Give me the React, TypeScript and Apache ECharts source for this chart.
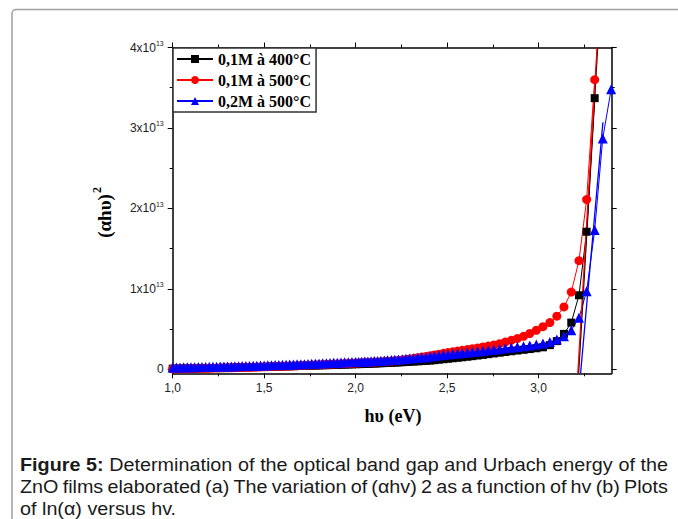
import React, { useEffect, useRef } from 'react';
import * as echarts from 'echarts';

// ---------- DATA (y values in units of 1e13) ----------
const hv = [
  1.00, 1.02, 1.04, 1.06, 1.08, 1.10, 1.12, 1.14, 1.16, 1.18,
  1.20, 1.22, 1.24, 1.26, 1.28, 1.30, 1.32, 1.34, 1.36, 1.38,
  1.40, 1.42, 1.44, 1.46, 1.48, 1.50, 1.52, 1.54, 1.56, 1.58,
  1.60, 1.62, 1.64, 1.66, 1.68, 1.70, 1.72, 1.74, 1.76, 1.78,
  1.80, 1.82, 1.84, 1.86, 1.88, 1.90, 1.92, 1.94, 1.96, 1.98,
  2.000, 2.016, 2.033, 2.050, 2.067, 2.084, 2.102, 2.120, 2.138, 2.157,
  2.175, 2.195, 2.214, 2.234, 2.255, 2.275, 2.296, 2.318, 2.340, 2.362,
  2.385, 2.408, 2.431, 2.455, 2.480, 2.505, 2.531, 2.557, 2.583, 2.611,
  2.638, 2.667, 2.696, 2.725, 2.756, 2.787, 2.818, 2.851, 2.884, 2.918,
  2.952, 2.988, 3.024, 3.062, 3.100, 3.139, 3.179, 3.221, 3.263, 3.307,
  3.351, 3.397,
];

const black400 = [
  0.008, 0.008, 0.009, 0.009, 0.010, 0.011, 0.011, 0.012, 0.013, 0.014,
  0.015, 0.016, 0.016, 0.017, 0.018, 0.019, 0.020, 0.021, 0.022, 0.023,
  0.024, 0.025, 0.026, 0.027, 0.028, 0.029, 0.030, 0.031, 0.032, 0.033,
  0.035, 0.036, 0.037, 0.038, 0.040, 0.041, 0.042, 0.044, 0.045, 0.046,
  0.048, 0.049, 0.051, 0.052, 0.054, 0.055, 0.057, 0.058, 0.060, 0.061,
  0.063, 0.064, 0.065, 0.067, 0.068, 0.070, 0.071, 0.073, 0.075, 0.077,
  0.079, 0.081, 0.083, 0.085, 0.088, 0.090, 0.093, 0.096, 0.099, 0.102,
  0.105, 0.108, 0.113, 0.119, 0.125, 0.131, 0.137, 0.143, 0.149, 0.156,
  0.163, 0.171, 0.179, 0.188, 0.197, 0.206, 0.215, 0.224, 0.233, 0.242,
  0.251, 0.261, 0.273, 0.300, 0.350, 0.440, 0.580, 0.920, 1.710, 3.370,
  null, null,
];

const red500 = [
  0.004, 0.005, 0.005, 0.006, 0.007, 0.008, 0.009, 0.010, 0.011, 0.012,
  0.013, 0.014, 0.015, 0.016, 0.017, 0.018, 0.019, 0.020, 0.021, 0.022,
  0.024, 0.025, 0.026, 0.028, 0.029, 0.031, 0.032, 0.034, 0.035, 0.037,
  0.038, 0.040, 0.042, 0.043, 0.045, 0.047, 0.049, 0.051, 0.053, 0.055,
  0.057, 0.059, 0.061, 0.063, 0.065, 0.067, 0.069, 0.071, 0.073, 0.075,
  0.077, 0.079, 0.081, 0.083, 0.085, 0.087, 0.089, 0.091, 0.093, 0.096,
  0.099, 0.102, 0.106, 0.110, 0.116, 0.122, 0.129, 0.136, 0.144, 0.152,
  0.160, 0.169, 0.178, 0.188, 0.198, 0.208, 0.217, 0.226, 0.235, 0.245,
  0.255, 0.266, 0.277, 0.289, 0.302, 0.318, 0.338, 0.360, 0.382, 0.410,
  0.445, 0.485, 0.530, 0.580, 0.660, 0.775, 0.960, 1.350, 2.110, 3.600,
  null, null,
];

const blue500 = [
  0.022, 0.023, 0.023, 0.024, 0.025, 0.026, 0.026, 0.027, 0.028, 0.029,
  0.030, 0.031, 0.032, 0.033, 0.034, 0.035, 0.036, 0.037, 0.039, 0.040,
  0.041, 0.042, 0.044, 0.045, 0.046, 0.048, 0.049, 0.050, 0.052, 0.053,
  0.055, 0.056, 0.058, 0.059, 0.061, 0.063, 0.064, 0.066, 0.068, 0.070,
  0.072, 0.074, 0.076, 0.078, 0.080, 0.082, 0.084, 0.086, 0.088, 0.090,
  0.090, 0.092, 0.094, 0.096, 0.098, 0.100, 0.102, 0.104, 0.106, 0.109,
  0.112, 0.115, 0.118, 0.122, 0.126, 0.130, 0.134, 0.138, 0.142, 0.146,
  0.151, 0.158, 0.164, 0.170, 0.177, 0.184, 0.190, 0.196, 0.202, 0.208,
  0.214, 0.221, 0.228, 0.235, 0.243, 0.251, 0.260, 0.268, 0.277, 0.286,
  0.296, 0.307, 0.320, 0.340, 0.370, 0.410, 0.485, 0.640, 0.970, 1.730,
  2.870, 3.480,
];

// Linear (Tauc) extrapolation lines: [hv, value]
const fitBlack = [[3.219, -0.05], [3.323, 4.0]];
const fitRed = [[3.215, -0.05], [3.320, 4.0]];
const fitBlue = [[3.230, -0.05], [3.352, 3.07]];

const seriesNames = ['0,1M à 400°C', '0,1M à 500°C', '0,2M à 500°C'];
const xMajorTicks = [1.0, 1.5, 2.0, 2.5, 3.0];
const xMinorTicks = [1.25, 1.75, 2.25, 2.75, 3.25];
const yMajorTicks = [0, 1, 2, 3, 4];
const yMinorTicks = [0.5, 1.5, 2.5, 3.5];

const xTitle = 'hυ (eV)';
const yTitleMain = '(αhυ)';
const yTitleSup = '2';
const captionBold = 'Figure 5:';
const captionLine1 = 'Determination of the optical band gap and Urbach energy of the';
const captionLine2 = 'ZnO films elaborated (a) The variation of (αhv) 2 as a function of hv (b) Plots';
const captionLine3 = 'of ln(α) versus hv.';

// ---------- STYLE ----------
const X_MIN = 1.0, X_MAX = 3.4, Y_MIN = -0.05, Y_MAX = 4.0;
const SANS = 'Liberation Sans';
const SERIF = 'Liberation Serif';
const CAP_FONT = '"Liberation Sans", Arial, sans-serif';
const CAP_SIZE = 17.5;
const CAP_SX = 1.13;
const CAP_LEFT = 20, CAP_RIGHT = 668, CAP_Y0 = 465, CAP_DY = 22;

function pairs(ys: (number | null)[]) {
  const out: number[][] = [];
  const n = Math.min(hv.length, ys.length);
  for (let i = 0; i < n; i++) {
    const v = ys[i];
    if (v !== null && v !== undefined) out.push([hv[i], v]);
  }
  return out;
}

function captionGraphics() {
  const ctx = document.createElement('canvas').getContext('2d')!;
  const measure = (w: string, b: boolean) => {
    ctx.font = `${b ? 'bold ' : ''}${CAP_SIZE}px ${CAP_FONT}`;
    return ctx.measureText(w).width * CAP_SX;
  };
  const toWords = (s: string, b: boolean) => s.split(' ').map((w) => ({ w, b }));
  const lines = [
    { words: [...toWords(captionBold, true), ...toWords(captionLine1, false)], justify: true },
    { words: toWords(captionLine2, false), justify: true },
    { words: toWords(captionLine3, false), justify: false },
  ];
  const out: any[] = [];
  const spaceW = measure(' ', false);
  lines.forEach((ln, li) => {
    const widths = ln.words.map((o) => measure(o.w, o.b));
    const total = widths.reduce((a, b) => a + b, 0);
    let gap = spaceW;
    if (ln.justify) gap = Math.max(spaceW * 0.7, (CAP_RIGHT - CAP_LEFT - total) / (ln.words.length - 1));
    let x = CAP_LEFT;
    ln.words.forEach((o, i) => {
      out.push({
        type: 'text',
        x,
        y: CAP_Y0 + li * CAP_DY,
        scaleX: CAP_SX,
        silent: true,
        style: {
          text: o.w,
          fontFamily: CAP_FONT,
          fontSize: CAP_SIZE,
          fontWeight: o.b ? 'bold' : 'normal',
          fill: '#1a1a1a',
          align: 'left',
          verticalAlign: 'middle',
        },
      });
      x += widths[i] + gap;
    });
  });
  return out;
}

const lineBlack = { color: '#000', width: 1.5 };
const tickStyle = { color: '#000', width: 1 };

function xAxisDef(position: 'top' | 'bottom', ticks: number[], len: number, showLine: boolean, labels: boolean) {
  return {
    type: 'value',
    position,
    min: X_MIN,
    max: X_MAX,
    axisLine: { show: showLine, onZero: false, lineStyle: lineBlack },
    axisTick: { show: true, inside: false, length: len, customValues: ticks, lineStyle: tickStyle },
    axisLabel: labels
      ? {
          show: true,
          customValues: ticks,
          margin: 9,
          fontSize: 12,
          fontFamily: SANS,
          color: '#222',
          formatter: (v: number) => v.toFixed(1).replace('.', ','),
        }
      : { show: false },
    splitLine: { show: false },
  };
}

function yAxisDef(position: 'left' | 'right', ticks: number[], len: number, showLine: boolean, labels: boolean) {
  return {
    type: 'value',
    position,
    min: Y_MIN,
    max: Y_MAX,
    axisLine: { show: showLine, onZero: false, lineStyle: lineBlack },
    axisTick: { show: true, inside: false, length: len, customValues: ticks, lineStyle: tickStyle },
    axisLabel: labels
      ? {
          show: true,
          customValues: ticks,
          margin: 9,
          formatter: (v: number) => (v === 0 ? '{m|0}' : `{m|${v}x10}{e|13}`),
          rich: {
            m: { fontSize: 12, fontFamily: SANS, color: '#222' },
            e: { fontSize: 7, fontFamily: SANS, color: '#222', padding: [0, 0, 8, 0] },
          },
        }
      : { show: false },
    splitLine: { show: false },
  };
}

export default function App() {
  const ref = useRef<HTMLDivElement>(null);
  useEffect(() => {
    const el = ref.current;
    if (!el) return;
    const chart = echarts.init(el, undefined, { renderer: 'svg' });
    const option: any = {
      animation: false,
      backgroundColor: '#fff',
      grid: { left: 172.7, right: 66.3, top: 47.5, bottom: 145.7, containLabel: false },
      xAxis: [
        xAxisDef('bottom', xMajorTicks, 5, true, true),
        xAxisDef('bottom', xMinorTicks, 3, false, false),
        xAxisDef('top', xMajorTicks, 5, true, false),
        xAxisDef('top', xMinorTicks, 3, false, false),
      ],
      yAxis: [
        yAxisDef('left', yMajorTicks, 5, true, true),
        yAxisDef('left', yMinorTicks, 3, false, false),
        yAxisDef('right', yMajorTicks, 5, true, false),
        yAxisDef('right', yMinorTicks, 3, false, false),
      ],
      legend: {
        data: seriesNames,
        orient: 'vertical',
        left: 173,
        top: 48,
        padding: [3, 5, 3, 3],
        itemGap: 5,
        itemWidth: 36,
        itemHeight: 10,
        backgroundColor: '#fff',
        borderColor: '#333',
        borderWidth: 1.5,
        textStyle: { fontFamily: SERIF, fontWeight: 'bold', fontSize: 16, color: '#000' },
      },
      series: [
        {
          name: seriesNames[0],
          type: 'line',
          data: pairs(black400),
          symbol: 'rect',
          symbolSize: 8,
          itemStyle: { color: '#000' },
          lineStyle: { color: '#000', width: 1 },
        },
        {
          name: seriesNames[1],
          type: 'line',
          data: pairs(red500),
          symbol: 'circle',
          symbolSize: 9,
          itemStyle: { color: '#ff0000' },
          lineStyle: { color: '#ff0000', width: 1 },
        },
        {
          name: seriesNames[2],
          type: 'line',
          data: pairs(blue500),
          symbol: 'triangle',
          symbolSize: 10,
          itemStyle: { color: '#0000ff' },
          lineStyle: { color: '#0000ff', width: 1 },
        },
        { name: 'fitBlack', type: 'line', data: fitBlack, symbol: 'none', silent: true, lineStyle: { color: '#000', width: 1.3 } },
        { name: 'fitRed', type: 'line', data: fitRed, symbol: 'none', silent: true, lineStyle: { color: '#ff0000', width: 1.3 } },
        { name: 'fitBlue', type: 'line', data: fitBlue, symbol: 'none', silent: true, lineStyle: { color: '#0000ff', width: 1.3 } },
      ],
      graphic: [
        {
          type: 'rect',
          silent: true,
          shape: { x: 12, y: 9.5, width: 720, height: 560, r: 4 },
          style: { fill: 'none', stroke: '#a0a0a0', lineWidth: 1.5 },
        },
        {
          type: 'text',
          x: 104,
          y: 216,
          rotation: Math.PI / 2,
          silent: true,
          style: {
            text: yTitleMain,
            fontSize: 19,
            fontWeight: 'bold',
            fontFamily: SERIF,
            fill: '#000',
            align: 'center',
            verticalAlign: 'middle',
          },
        },
        {
          type: 'text',
          x: 97,
          y: 190,
          rotation: Math.PI / 2,
          silent: true,
          style: {
            text: yTitleSup,
            fontSize: 12,
            fontWeight: 'bold',
            fontFamily: SERIF,
            fill: '#000',
            align: 'center',
            verticalAlign: 'middle',
          },
        },
        {
          type: 'text',
          x: 393,
          y: 416,
          silent: true,
          style: {
            text: xTitle,
            fontSize: 18,
            fontWeight: 'bold',
            fontFamily: SERIF,
            fill: '#000',
            align: 'center',
            verticalAlign: 'middle',
          },
        },
        ...captionGraphics(),
      ],
    };
    chart.setOption(option);
    return () => chart.dispose();
  }, []);
  return (
    <div
      ref={ref}
      style={{ position: 'fixed', left: 0, top: 0, width: 678, height: 519, background: '#fff' }}
    />
  );
}
